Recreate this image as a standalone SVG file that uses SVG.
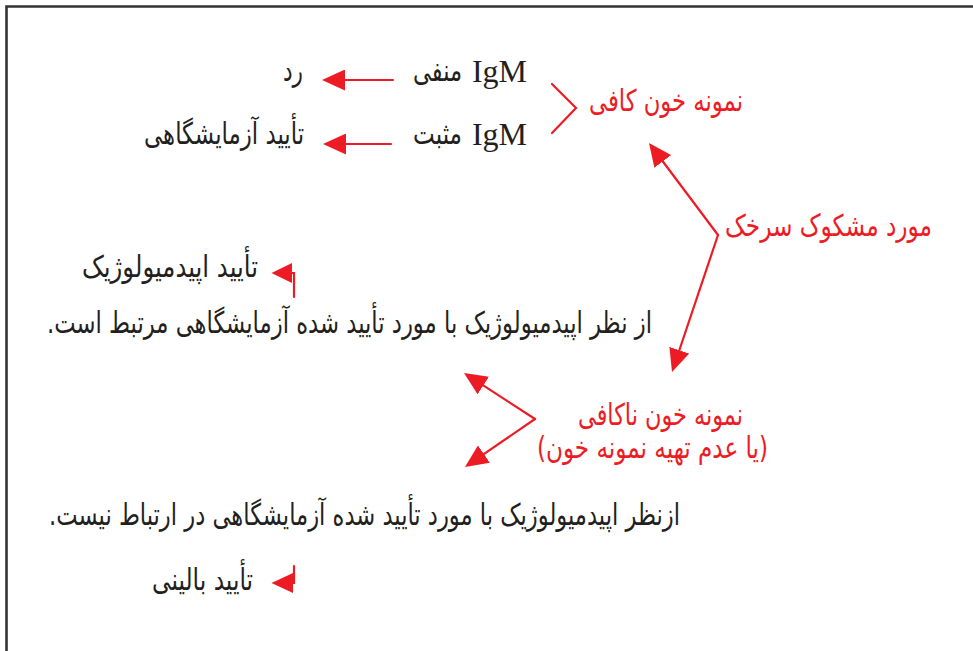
<svg xmlns="http://www.w3.org/2000/svg" width="973" height="651" viewBox="0 0 973 651">
<style>
.fa{font-family:"DejaVu Sans","Noto Sans",sans-serif;font-size:30px;direction:rtl;text-anchor:middle}
.k{fill:#231F20}
.r{fill:#ED1C24}
.lat{font-family:"Liberation Serif",serif;font-size:32px;fill:#231F20;text-anchor:end}
.ln{stroke:#ED1C24;stroke-width:2.2;fill:none;stroke-linecap:round}
.hd{fill:#ED1C24}
</style>
<defs>
<marker id="ah" viewBox="0 0 23 21" refX="13" refY="10.5" markerWidth="23" markerHeight="21" markerUnits="userSpaceOnUse" orient="auto">
<path d="M0,0 L23,10.5 L0,21 z" fill="#ED1C24"/>
</marker>
</defs>
<rect width="973" height="651" fill="#ffffff"/>
<path d="M6.5,651 V6.5 H973" fill="none" stroke="#333333" stroke-width="2.6"/>

<g id="igm-neg">
<text class="lat" x="527" y="82">IgM</text>
<text class="fa k" x="437.5" y="81" textLength="49" lengthAdjust="spacingAndGlyphs">منفی</text>
</g>
<g id="reject"><text class="fa k" x="293" y="81" textLength="20" lengthAdjust="spacingAndGlyphs">رد</text></g>
<g id="igm-pos">
<text class="lat" x="527" y="145">IgM</text>
<text class="fa k" x="437.5" y="144" textLength="49" lengthAdjust="spacingAndGlyphs">مثبت</text>
</g>
<g id="lab-confirm"><text class="fa k" x="224" y="144" textLength="160" lengthAdjust="spacingAndGlyphs">تأیید آزمایشگاهی</text></g>
<g id="adequate"><text class="fa r" x="666" y="111" textLength="154" lengthAdjust="spacingAndGlyphs">نمونه خون کافی</text></g>
<g id="suspected"><text class="fa r" x="828.5" y="236" textLength="207" lengthAdjust="spacingAndGlyphs">مورد مشکوک سرخک</text></g>
<g id="inadequate">
<text class="fa r" x="660.5" y="425" textLength="165" lengthAdjust="spacingAndGlyphs">نمونه خون ناکافی</text>
<text class="fa r" x="652.5" y="458" textLength="231" lengthAdjust="spacingAndGlyphs">(یا عدم تهیه نمونه خون)</text>
</g>
<g id="epi-confirm"><text class="fa k" x="170" y="277" textLength="176" lengthAdjust="spacingAndGlyphs">تأیید اپیدمیولوژیک</text></g>
<g id="epi-linked"><text class="fa k" x="349.5" y="333" textLength="605" lengthAdjust="spacingAndGlyphs">از نظر اپیدمیولوژیک با مورد تأیید شده آزمایشگاهی مرتبط است.</text></g>
<g id="epi-unlinked"><text class="fa k" x="364.5" y="525" textLength="631" lengthAdjust="spacingAndGlyphs">ازنظر اپیدمیولوژیک با مورد تأیید شده آزمایشگاهی در ارتباط نیست.</text></g>
<g id="clinical-confirm"><text class="fa k" x="202.5" y="590" textLength="101" lengthAdjust="spacingAndGlyphs">تأیید بالینی</text></g>

<g id="connectors">
<line class="ln" x1="393" y1="80" x2="332" y2="80" marker-end="url(#ah)"/>
<line class="ln" x1="391" y1="144" x2="333" y2="144" marker-end="url(#ah)"/>
<polyline class="ln" points="552,84 576,108 552,133" stroke-linecap="butt"/>
<line class="ln" x1="718" y1="235" x2="655" y2="151" marker-end="url(#ah)"/>
<line class="ln" x1="718" y1="235" x2="675.2" y2="362.5" marker-end="url(#ah)"/>
<line class="ln" x1="535" y1="419" x2="472.4" y2="378.4" marker-end="url(#ah)"/>
<line class="ln" x1="535" y1="419" x2="473.2" y2="461.4" marker-end="url(#ah)"/>
<polyline class="ln" points="294,297 294,273 288,273" stroke-linecap="butt"/>
<polygon class="hd" points="271.5,273 292,263 292,283"/>
<polyline class="ln" points="294,566 294,583 288,583" stroke-linecap="butt"/>
<polygon class="hd" points="271.5,583 293,573 293,593"/>
</g>
</svg>
